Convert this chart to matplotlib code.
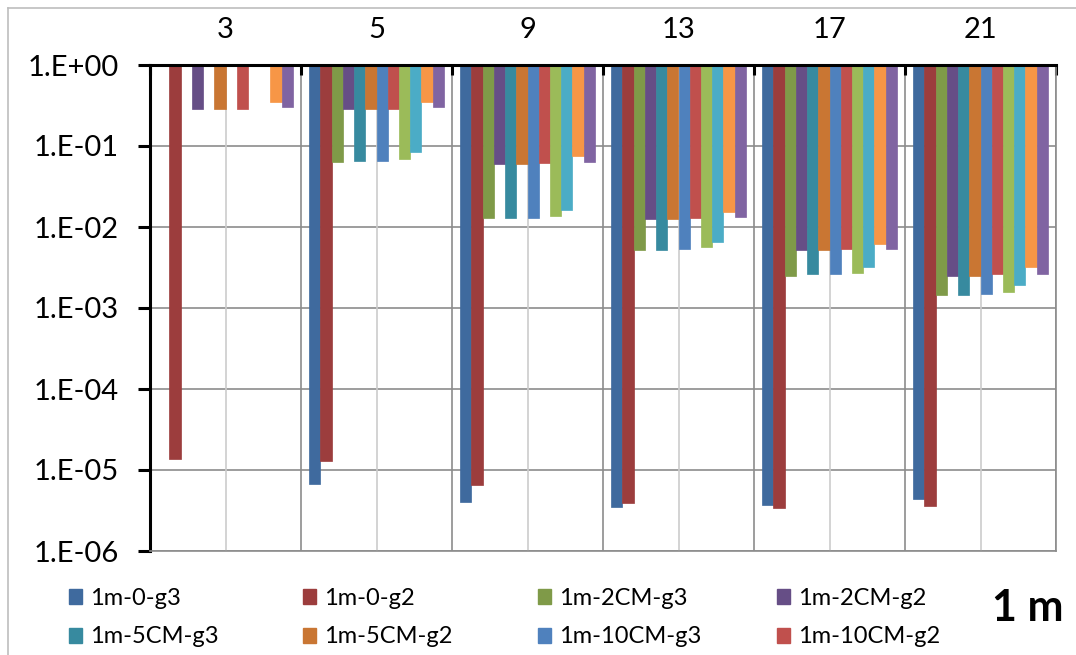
import numpy as np
import matplotlib.pyplot as plt
from matplotlib.patches import Patch
from matplotlib.lines import Line2D

plt.rcParams['font.family'] = ['Lato', 'DejaVu Sans']

# categories along the top axis
groups = ['3', '5', '9', '13', '17', '21']

# series names (only the first 8 appear in the legend)
names = ['1m-0-g3', '1m-0-g2', '1m-2CM-g3', '1m-2CM-g2',
         '1m-5CM-g3', '1m-5CM-g2', '1m-10CM-g3', '1m-10CM-g2',
         '1m-20CM-g3', '1m-20CM-g2', '1m-30CM-g3', '1m-30CM-g2']

colors = ['#3F6A9E', '#9C3D3D', '#7F9A48', '#664E86',
          '#378A9F', '#C97633', '#4F81BD', '#C0504D',
          '#9BBB59', '#4BACC6', '#F79646', '#8064A2']

nan = np.nan
# values per series, one per group (3, 5, 9, 13, 17, 21)
s01 = [nan, 6.7e-6, 4.0e-6, 3.5e-6, 3.7e-6, 4.4e-6]
s02 = [1.35e-5, 1.3e-5, 6.5e-6, 3.9e-6, 3.4e-6, 3.6e-6]
s03 = [nan, 0.063, 0.013, 0.0052, 0.0025, 0.00145]
s04 = [0.286, 0.286, 0.060, 0.0126, 0.0052, 0.0025]
s05 = [nan, 0.065, 0.013, 0.0052, 0.0026, 0.00145]
s06 = [0.29, 0.29, 0.060, 0.0126, 0.0052, 0.0025]
s07 = [nan, 0.065, 0.013, 0.0053, 0.0026, 0.0015]
s08 = [0.29, 0.29, 0.061, 0.013, 0.0053, 0.0026]
s09 = [nan, 0.069, 0.0138, 0.0057, 0.0027, 0.00156]
s10 = [nan, 0.084, 0.0164, 0.0065, 0.0032, 0.0019]
s11 = [0.352, 0.352, 0.075, 0.0155, 0.0062, 0.0032]
s12 = [0.30, 0.30, 0.063, 0.0133, 0.0054, 0.0026]
series = [s01, s02, s03, s04, s05, s06, s07, s08, s09, s10, s11, s12]

fig = plt.figure(figsize=(10.76, 6.55), dpi=100)
ax = fig.add_axes([150 / 1076, 1 - 551 / 655, 906 / 1076, 486 / 655])

n = len(series)
bw = 0.894 / n
centers = np.arange(len(groups)) + 0.5
for k, vals in enumerate(series):
    v = np.array(vals, dtype=float)
    x = centers - 0.447 + bw * (k + 0.5)
    ax.bar(x, 1 - v, bottom=v, width=bw, color=colors[k],
           edgecolor=colors[k], linewidth=0.5, zorder=3)

ax.set_yscale('log')
ax.set_ylim(1e-6, 1)
ax.set_xlim(0, len(groups))

# grid
for d in range(-6, 1):
    ax.axhline(10.0 ** d, color='#8c8c8c', lw=1.2, zorder=1)
for i in range(len(groups) + 1):
    ax.axvline(i, color='#8c8c8c', lw=1.2, zorder=1)
for c in centers:
    ax.axvline(c, color='#cccccc', lw=1.2, zorder=1)

yt = [10.0 ** d for d in range(-6, 1)]
ax.set_yticks(yt)
ax.set_yticklabels(['1.E-06', '1.E-05', '1.E-04', '1.E-03', '1.E-02', '1.E-01', '1.E+00'])
ax.minorticks_off()
ax.tick_params(axis='y', which='major', direction='out', length=8.5, width=2.2,
               labelsize=21, pad=14)

ax.xaxis.tick_top()
ax.set_xticks(range(len(groups) + 1))
ax.set_xticklabels([])
ax.set_xticks(centers, minor=True)
ax.set_xticklabels(groups, minor=True)
ax.tick_params(axis='x', which='major', direction='in', length=7, width=2.2)
ax.tick_params(axis='x', which='minor', length=0, labelsize=21, pad=16)

for side in ['top', 'left']:
    ax.spines[side].set_linewidth(2.2)
    ax.spines[side].set_color('black')
for side in ['right', 'bottom']:
    ax.spines[side].set_linewidth(1.2)
    ax.spines[side].set_color('#8c8c8c')
ax.spines['top'].set_zorder(5)

# legend: 4 columns, 2 rows, filled row by row
col_x = [69, 303, 538, 777]
for c in range(4):
    idx = [c, c + 4]
    hs = [Patch(facecolor=colors[k], edgecolor=colors[k]) for k in idx]
    fig.legend(hs, [names[k] for k in idx], loc='center left',
               bbox_to_anchor=(col_x[c] / 1076, 1 - 617.5 / 655),
               frameon=False, fontsize=17, borderpad=0, borderaxespad=0,
               handlelength=0.55, handleheight=0.6, handletextpad=0.35,
               labelspacing=0.75)

fig.text(1064 / 1076, 1 - 608 / 655, '1 m', ha='right', va='center',
         fontsize=31, fontweight='bold')

# chart area border (only top and left edges are visible in the crop)
fig.add_artist(Line2D([8 / 1076, 1], [1 - 8 / 655, 1 - 8 / 655],
                      transform=fig.transFigure, color='#bdbdbd', lw=1.2))
fig.add_artist(Line2D([8 / 1076, 8 / 1076], [0, 1 - 8 / 655],
                      transform=fig.transFigure, color='#bdbdbd', lw=1.2))

fig.savefig('out.png', dpi=100)
